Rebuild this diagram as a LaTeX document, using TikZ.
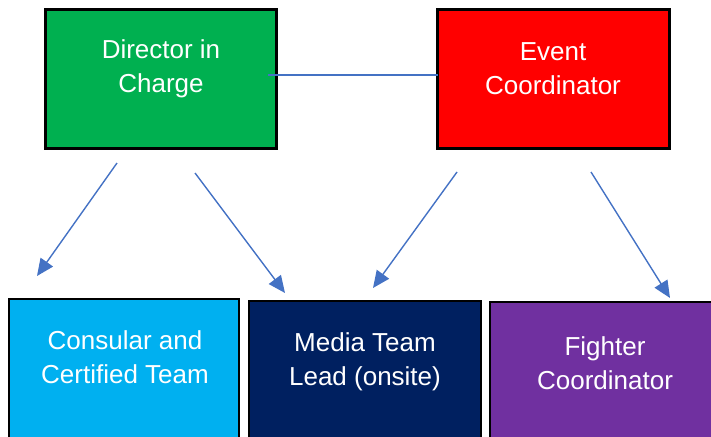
\documentclass[tikz,border=0pt]{standalone}
\usepackage{fontspec}
\setmainfont{Liberation Sans}
\usetikzlibrary{arrows.meta}
\definecolor{cgreen}{HTML}{00B050}
\definecolor{cred}{HTML}{FF0000}
\definecolor{ccyan}{HTML}{00B0F0}
\definecolor{cnavy}{HTML}{002060}
\definecolor{cpurple}{HTML}{7030A0}
\definecolor{cline}{HTML}{4472C4}
\tikzset{
  topbox/.style={draw=black, line width=3pt, inner sep=0pt},
  botbox/.style={draw=black, line width=2.2pt, inner sep=0pt},
  boxtext/.style={text=white, align=center, inner sep=0pt, font=\fontsize{26}{34}\selectfont},
  conn/.style={draw=cline, line width=1.4pt},
  arr/.style={conn, -{Triangle[length=17pt,width=15pt]}}
}
\begin{document}
\begin{tikzpicture}[x=1pt,y=-1pt]
\useasboundingbox (0,0) rectangle (711,436);
% boxes
\path[topbox, fill=cgreen] (45,10) rectangle (276,148) node[midway, inner sep=0pt] (dir) {};
\path[topbox, fill=cred] (437,10) rectangle (669,148) node[midway, inner sep=0pt] (evt) {};
\path[botbox, fill=ccyan] (9,299) rectangle (239,445) node[midway, inner sep=0pt] (con) {};
\path[botbox, fill=cnavy] (249,301) rectangle (481,445) node[midway, inner sep=0pt] (med) {};
\path[botbox, fill=cpurple] (490,302) rectangle (722,445) node[midway, inner sep=0pt] (fig) {};
% texts
\node[boxtext] (dirtxt) at (161,69) {Director in\\Charge};
\node[boxtext] (evttxt) at (553,69) {Event\\Coordinator};
\node[boxtext] (contxt) at (125,357) {Consular and\\Certified Team};
\node[boxtext] (medtxt) at (365,362) {Media Team\\Lead (onsite)};
\node[boxtext] (figtxt) at (605,363) {Fighter\\Coordinator};
% connector between top boxes
\coordinate (linkA) at (268,75);
\coordinate (linkB) at (438,75);
\draw[conn] (linkA) -- (linkB);
% arrows
\coordinate (a1s) at (117,163); \coordinate (a1e) at (37,276);
\coordinate (a2s) at (195,173); \coordinate (a2e) at (285,293);
\coordinate (a3s) at (457,172); \coordinate (a3e) at (373,288);
\coordinate (a4s) at (591,172); \coordinate (a4e) at (670,298);
\draw[arr] (a1s) -- (a1e);
\draw[arr] (a2s) -- (a2e);
\draw[arr] (a3s) -- (a3e);
\draw[arr] (a4s) -- (a4e);
\end{tikzpicture}
\end{document}
